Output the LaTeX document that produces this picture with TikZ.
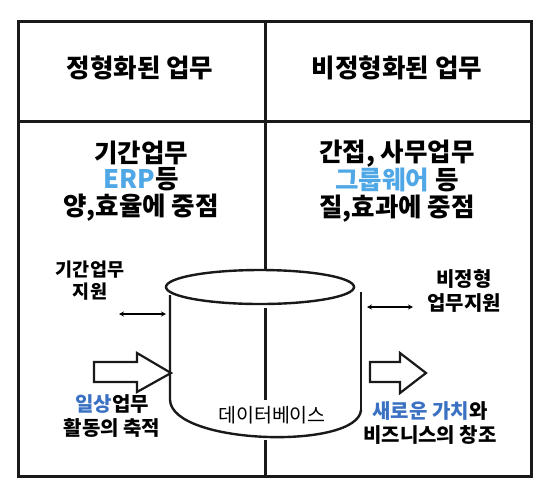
\documentclass[tikz,border=0pt]{standalone}
\usepackage{fontspec}
\setmainfont{Noto Sans CJK KR}
\usetikzlibrary{arrows.meta}
\definecolor{lblue}{RGB}{79,167,230}
\definecolor{dblue}{RGB}{59,113,194}
\tikzset{
  frame/.style={line width=3pt,draw=black!90},
  cyl/.style={line width=2.4pt,draw=black!90},
  blockarrow/.style={line width=2.2pt,draw=black!90,fill=white,line join=miter},
  dblarrow/.style={line width=1.2pt,{Stealth[length=5pt,width=5pt]}-{Stealth[length=5pt,width=5pt]}},
  bigtxt/.style={font=\fontsize{25.5}{26.5}\selectfont\bfseries,align=center,inner sep=0pt},
  smalltxt/.style={font=\fontsize{20}{24.5}\selectfont\bfseries,align=center,inner sep=0pt},
  smallertxt/.style={font=\fontsize{18.5}{22}\selectfont\bfseries,align=center,inner sep=0pt},
  dbtxt/.style={font=\fontsize{19.5}{20}\selectfont,align=center,inner sep=0pt}
}
\begin{document}
\begin{tikzpicture}[x=1pt,y=-1pt]
\useasboundingbox (0,0) rectangle (545,491);
% frame
\draw[frame] (18,21) rectangle (531,476);
\draw[frame] (18,121) -- (531,121);
\draw[frame] (265,21) -- (265,271);
\draw[frame] (265,308) -- (265,400);
\draw[frame] (265,440) -- (265,476);
% headers
\node[bigtxt] (h1) at (140,68) {정형화된 업무};
\node[bigtxt] (h2) at (397,68) {비정형화된 업무};
% middle texts
\node[bigtxt] (m1) at (141,181) {기간업무\\{\color{lblue}ERP}등\\양,효율에 중점};
\node[bigtxt] (m2) at (397,181) {간접, 사무업무\\{\color{lblue}그룹웨어} 등\\질,효과에 중점};
% cylinder
\draw[cyl] (170,295) -- (170,400) .. controls (172,445) and (358,450) .. (361,410);
\draw[cyl] (361,292) -- (361,410);
\draw[cyl,fill=white] (260,287) ellipse [x radius=94, y radius=17];
\node[dbtxt] (db) at (272,415) {데이터베이스};
% left side labels
\node[smallertxt] (l1) at (90,281) {기간업무\\지원};
\coordinate (la1) at (119,314);
\coordinate (la2) at (166,314);
\draw[dblarrow] (la1) -- (la2);
\draw[blockarrow] (94,362) -- (137,362) -- (137,353) -- (171,373) -- (137,392) -- (137,382) -- (94,382) -- cycle;
\node[smalltxt] (l2) at (112,416) {{\color{dblue}일상}업무\\활동의 축적};
% right side labels
\node[smalltxt] (r1) at (464,291) {비정형\\업무지원};
\coordinate (ra1) at (367,307);
\coordinate (ra2) at (413,307);
\draw[dblarrow] (ra1) -- (ra2);
\draw[blockarrow] (370,362) -- (400,362) -- (400,353) -- (426,373) -- (400,393) -- (400,382) -- (370,382) -- cycle;
\node[smalltxt] (r2) at (430,423) {{\color{dblue}새로운 가치}와\\비즈니스의 창조};
\end{tikzpicture}
\end{document}
